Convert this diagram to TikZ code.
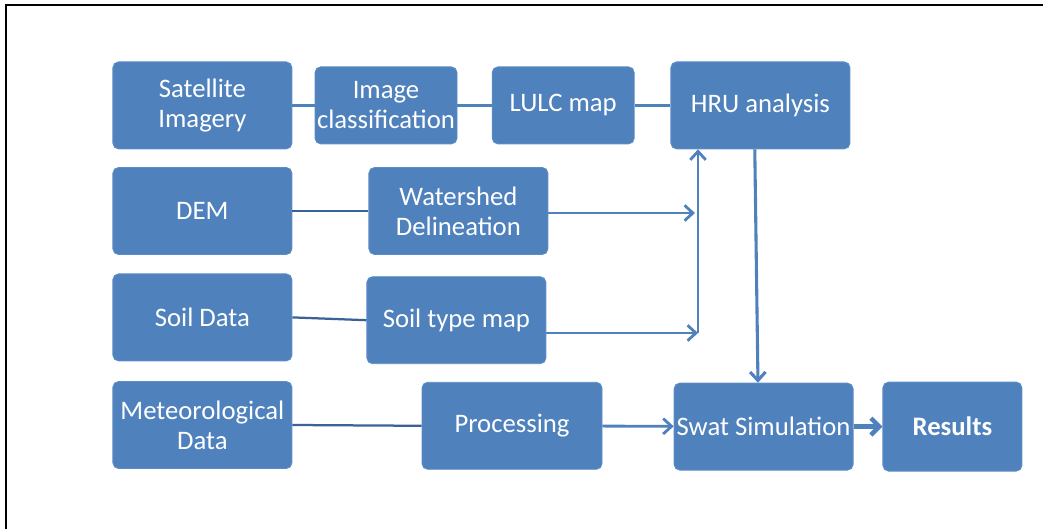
\documentclass[tikz,border=0pt]{standalone}
\usepackage{fontspec}
\setmainfont{Carlito}
\usepackage{tikz}
\usetikzlibrary{arrows.meta}
\definecolor{BoxBlue}{HTML}{4F81BD}
\definecolor{BoxEdge}{HTML}{5E8DC6}
\definecolor{LinkDark}{HTML}{3B6296}
\colorlet{LinkBlue}{BoxBlue}

\begin{document}
\begin{tikzpicture}
                    \useasboundingbox (0, 0) rectangle (26.075, 13.225);

                    % frame
                    \draw[line width = 1.6pt] (0.15, 0) -- (0.15, 13.1) -- (26.075, 13.1);

                    \coordinate (SAT)  at ( 5.06, 10.59);
                    \coordinate (CLS)  at ( 9.65, 10.59);
                    \coordinate (LULC) at (14.08, 10.59);
                    \coordinate (HRU)  at (19.01, 10.59);
                    \coordinate (DEM)  at ( 5.06,  7.95);
                    \coordinate (WSD)  at (11.46,  7.95);
                    \coordinate (SOIL) at ( 5.06,  5.29);
                    \coordinate (STM)  at (11.41,  5.22);
                    \coordinate (MET)  at ( 5.06,  2.60);
                    \coordinate (PROC) at (12.80,  2.58);
                    \coordinate (SWAT) at (19.09,  2.56);
                    \coordinate (RES)  at (23.81,  2.56);

                    \begin{scope}[
                        every node/.style = {
                            shape          = rectangle,
                            rounded corners = 4pt,
                            draw           = BoxEdge,
                            fill           = BoxBlue,
                            line width     = 0.6pt,
                            inner sep      = 0pt,
                            minimum width  = 4.475cm,
                            minimum height = 2.175cm,
                            align          = center,
                            text           = white,
                            font           = \fontsize{19}{21.5}\selectfont,
                        }
                    ]
                        \node (sat)  at (SAT)  {Satellite\\Imagery};
                        \node (cls)  at (CLS)  [minimum width = 3.55cm, minimum height = 1.925cm] {Image\\classification};
                        \node (lulc) at (LULC) [minimum width = 3.55cm, minimum height = 1.925cm] {LULC map};
                        \node (hru)  at (HRU)  {HRU analysis};
                        \node (dem)  at (DEM)  {DEM};
                        \node (wsd)  at (WSD)  {Watershed\\Delineation};
                        \node (soil) at (SOIL) {Soil Data};
                        \node (stm)  at (STM)  {Soil type map};
                        \node (met)  at (MET)  {Meteorological\\Data};
                        \node (proc) at (PROC) [minimum width = 4.5cm] {Processing};
                        \node (swat) at (SWAT) {Swat Simulation};
                        \node (res)  at (RES)  [minimum width = 3.475cm, minimum height = 2.225cm] {\textbf{Results}};
                    \end{scope}

                    \coordinate (J1) at (17.375, 7.90);
                    \coordinate (J2) at (17.45,  4.90);

                    \draw[line width = 2pt, LinkBlue] (sat) -- (cls);
                    \draw[line width = 2pt, LinkBlue] (cls) -- (lulc);
                    \draw[line width = 2pt, LinkBlue] (lulc) -- (hru);

                    \draw[line width = 1.6pt, LinkDark] (dem) -- (wsd);
                    \draw[line width = 1.6pt, LinkDark] (soil.east) -- (stm.west);
                    \draw[line width = 1.6pt, LinkDark] (met.east) -- (proc.west);

                    \draw[line width = 2pt, LinkBlue, -{Straight Barb[length = 6pt, width = 11pt]}]
                        (wsd.east |- J1) -- (J1);
                    \draw[line width = 2pt, LinkBlue, -{Straight Barb[length = 6pt, width = 11pt]}]
                        (stm.east |- J2) -- (J2);
                    \draw[line width = 2pt, LinkBlue, -{Straight Barb[length = 6pt, width = 11pt]}]
                        (J2) -- (J2 |- hru.south);
                    \draw[line width = 2.2pt, LinkBlue, -{Straight Barb[length = 6pt, width = 11pt]}]
                        ([xshift = -4pt]hru.south) -- ([xshift = -4pt]swat.north);
                    \draw[line width = 2pt, LinkBlue, -{Straight Barb[length = 6pt, width = 11pt]}]
                        (proc) -- (swat);
                    \draw[line width = 3.2pt, LinkBlue, -{Straight Barb[length = 6pt, width = 12pt]}]
                        (swat) -- (res);
                \end{tikzpicture}
\end{document}
